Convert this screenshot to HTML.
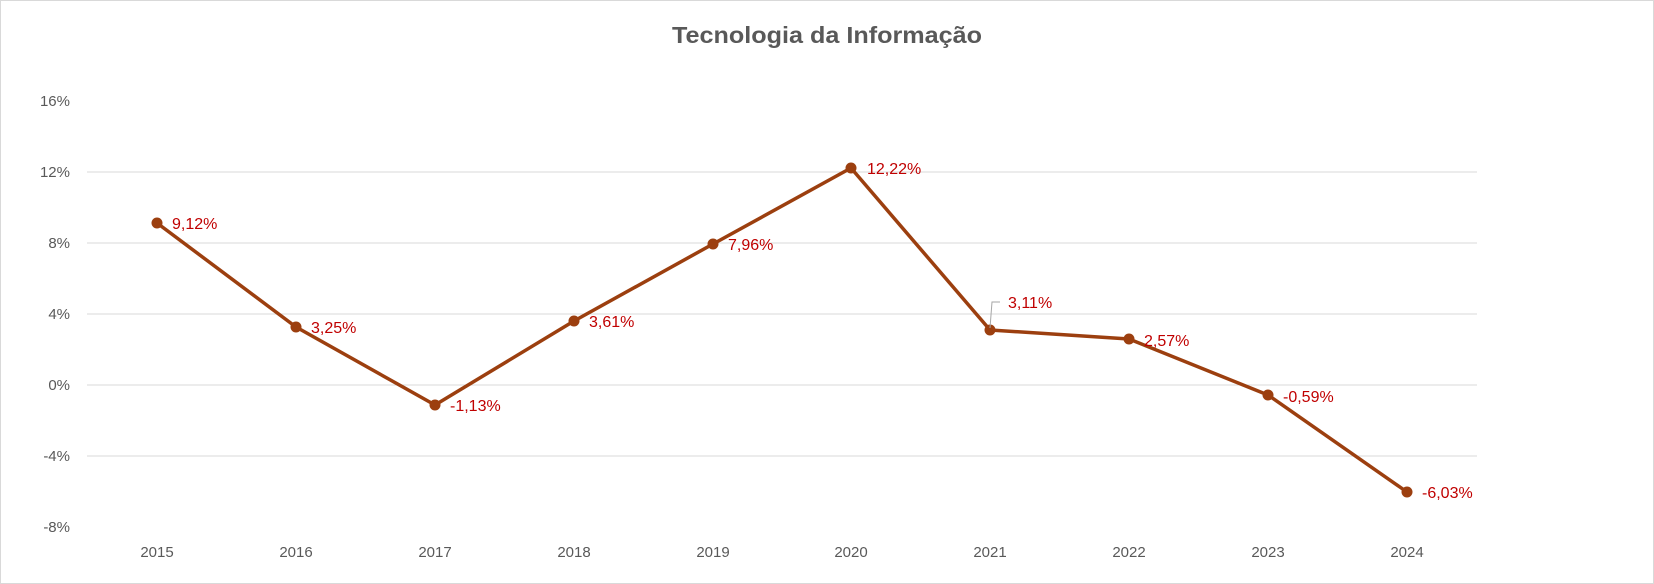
<!DOCTYPE html>
<html><head><meta charset="utf-8"><style>
html,body{margin:0;padding:0;background:#fff;}
svg{display:block;font-family:"Liberation Sans",sans-serif;}
</style></head><body>
<svg width="1654" height="584" viewBox="0 0 1654 584" xmlns="http://www.w3.org/2000/svg">
<rect x="0.5" y="0.5" width="1653" height="583" fill="#fff" stroke="#d9d9d9"/>
<text x="827" y="43" text-anchor="middle" font-size="23" font-weight="bold" fill="#595959" textLength="310" lengthAdjust="spacingAndGlyphs">Tecnologia da Informação</text>
<g stroke="#d9d9d9" stroke-width="1">
<line x1="87" x2="1477" y1="172" y2="172"/>
<line x1="87" x2="1477" y1="243" y2="243"/>
<line x1="87" x2="1477" y1="314" y2="314"/>
<line x1="87" x2="1477" y1="385" y2="385"/>
<line x1="87" x2="1477" y1="456" y2="456"/>
</g>
<g font-size="15" fill="#595959" text-anchor="end">
<text x="70" y="106">16%</text>
<text x="70" y="177">12%</text>
<text x="70" y="248">8%</text>
<text x="70" y="319">4%</text>
<text x="70" y="390">0%</text>
<text x="70" y="461">-4%</text>
<text x="70" y="532">-8%</text>
</g>
<g font-size="15" fill="#595959" text-anchor="middle">
<text x="157" y="557">2015</text>
<text x="296" y="557">2016</text>
<text x="435" y="557">2017</text>
<text x="574" y="557">2018</text>
<text x="713" y="557">2019</text>
<text x="851" y="557">2020</text>
<text x="990" y="557">2021</text>
<text x="1129" y="557">2022</text>
<text x="1268" y="557">2023</text>
<text x="1407" y="557">2024</text>
</g>
<polyline fill="none" stroke="#9c3f0f" stroke-width="3.5" stroke-linejoin="round" points="157,223 296,327 435,405 574,321 713,244 851,168 990,330 1129,339 1268,395 1407,492"/>
<g fill="#9c3f0f">
<circle cx="157" cy="223" r="5.5"/><circle cx="296" cy="327" r="5.5"/><circle cx="435" cy="405" r="5.5"/>
<circle cx="574" cy="321" r="5.5"/><circle cx="713" cy="244" r="5.5"/><circle cx="851" cy="168" r="5.5"/>
<circle cx="990" cy="330" r="5.5"/><circle cx="1129" cy="339" r="5.5"/><circle cx="1268" cy="395" r="5.5"/>
<circle cx="1407" cy="492" r="5.5"/>
</g>
<polyline fill="none" stroke="#a6a6a6" stroke-width="1" points="990,328 992,302 1000,302"/>
<g font-size="16" fill="#c00000">
<text x="172" y="229">9,12%</text>
<text x="311" y="333">3,25%</text>
<text x="450" y="411">-1,13%</text>
<text x="589" y="327">3,61%</text>
<text x="728" y="250">7,96%</text>
<text x="867" y="174">12,22%</text>
<text x="1008" y="308">3,11%</text>
<text x="1144" y="346">2,57%</text>
<text x="1283" y="402">-0,59%</text>
<text x="1422" y="498">-6,03%</text>
</g>
</svg>
</body></html>
